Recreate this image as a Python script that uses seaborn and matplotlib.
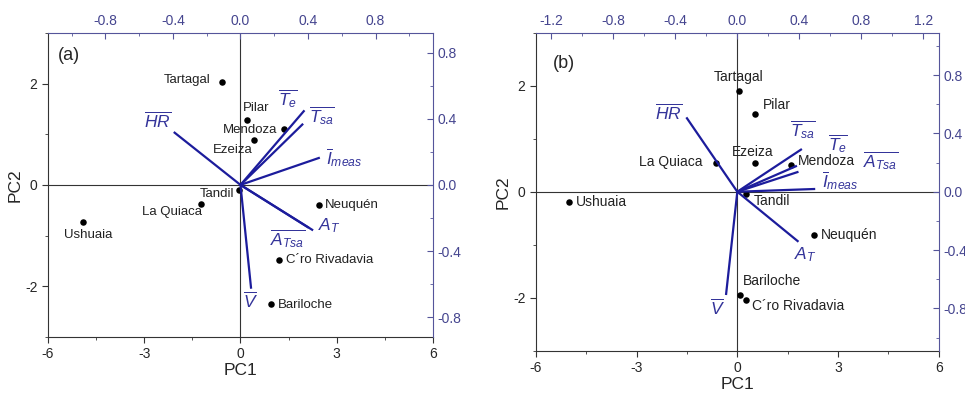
import pandas as pd
import matplotlib
matplotlib.use("Agg")
import matplotlib.pyplot as plt
from matplotlib.ticker import MultipleLocator
import seaborn as sns

sns.set_style("ticks")
plt.rcParams["font.family"] = ["Liberation Sans", "DejaVu Sans"]
plt.rcParams["mathtext.fontset"] = "custom"
plt.rcParams["mathtext.rm"] = "Liberation Sans"
plt.rcParams["mathtext.it"] = "Liberation Sans:italic"
plt.rcParams["axes.unicode_minus"] = False

# ------------------------------------------------------------
# datos
# ------------------------------------------------------------
stations = ["Tartagal", "Pilar", "Mendoza", "Ezeiza", "Tandil", "La Quiaca",
            "Ushuaia", "Neuquén", "C´ro Rivadavia", "Bariloche"]

# panel (a)
pc1_a = [-0.59, 0.21, 1.36, 0.42, -0.04, -1.22, -4.91, 2.45, 1.21, 0.95]
pc2_a = [2.02, 1.29, 1.11, 0.88, -0.10, -0.37, -0.73, -0.40, -1.48, -2.35]
# panel (b)
pc1_b = [0.04, 0.54, 1.59, 0.54, 0.25, -0.64, -5.02, 2.30, 0.25, 0.08]
pc2_b = [1.91, 1.47, 0.50, 0.55, -0.04, 0.55, -0.19, -0.81, -2.04, -1.95]

variables = [r"$\overline{HR}$", r"$\overline{T_e}$", r"$\overline{T_{sa}}$",
             r"$\overline{I}_{meas}$", r"$A_T$", r"$\overline{A_{Tsa}}$",
             r"$\overline{V}$"]
load1_a = [-0.395, 0.379, 0.371, 0.470, 0.430, 0.404, 0.063]
load2_a = [0.320, 0.451, 0.370, 0.165, -0.275, -0.259, -0.628]
load1_b = [-0.329, 0.385, 0.417, 0.503, 0.395, 0.395, -0.073]
load2_b = [0.510, 0.178, 0.293, 0.019, -0.343, 0.137, -0.708]

# posiciones de etiquetas (coordenadas de datos)
lab_a = {
    "Tartagal": (-0.92, 2.06, "right"), "Pilar": (0.09, 1.52, "left"),
    "Mendoza": (1.15, 1.08, "right"), "Ezeiza": (-0.85, 0.69, "left"),
    "Tandil": (-0.19, -0.18, "right"), "La Quiaca": (-1.21, -0.53, "right"),
    "Ushuaia": (-5.51, -0.98, "left"), "Neuquén": (2.64, -0.40, "left"),
    "C´ro Rivadavia": (1.42, -1.49, "left"), "Bariloche": (1.15, -2.36, "left"),
}
lab_b = {
    "Tartagal": (0.04, 2.17, "center"), "Pilar": (0.76, 1.64, "left"),
    "Mendoza": (1.79, 0.58, "left"), "Ezeiza": (0.47, 0.75, "center"),
    "Tandil": (0.50, -0.17, "left"), "La Quiaca": (-1.03, 0.56, "right"),
    "Ushuaia": (-4.82, -0.19, "left"), "Neuquén": (2.48, -0.81, "left"),
    "C´ro Rivadavia": (0.43, -2.15, "left"), "Bariloche": (0.16, -1.68, "left"),
}
vlab_a = [(-0.493, 0.390), (0.280, 0.522), (0.484, 0.421), (0.612, 0.168),
          (0.523, -0.245), (0.276, -0.326), (0.059, -0.699)]
vlab_b = [(-0.447, 0.548), (0.650, 0.330), (0.421, 0.423), (0.665, 0.080),
          (0.439, -0.434), (0.925, 0.210), (-0.127, -0.792)]

LINE = "#1c1c9c"
TXT = "#34349a"
AX2 = "#55559a"


def panel(rect, tag, tagpos, pc1, pc2, labs, l1, l2, vlabs, xl, yl, fs):
    ax = fig.add_axes(rect)
    df = pd.DataFrame({"pc1": pc1, "pc2": pc2, "st": stations})
    ax.axhline(0, color="#333333", lw=0.8, zorder=1)
    ax.axvline(0, color="#333333", lw=0.8, zorder=1)
    sns.scatterplot(data=df, x="pc1", y="pc2", color="black", s=22,
                    edgecolor="black", linewidth=0, ax=ax, zorder=3)
    for st in stations:
        x, y, ha = labs[st]
        ax.text(x, y, st, ha=ha, va="center", fontsize=fs, color="#222222")
    ax.set_xlim(-6, 6)
    ax.set_ylim(-3, 3)
    ax.set_xticks([-6, -3, 0, 3, 6])
    ax.set_yticks([-2, 0, 2])
    ax.xaxis.set_minor_locator(MultipleLocator(1.5))
    ax.yaxis.set_minor_locator(MultipleLocator(1))
    ax.tick_params(which="both", direction="out", labelsize=10, color="#333333")
    ax.tick_params(which="major", length=4)
    ax.tick_params(which="minor", length=2.5)
    ax.set_xlabel("PC1", fontsize=12.5, labelpad=1)
    ax.set_ylabel("PC2", fontsize=12.5, labelpad=2)
    for s in ["top", "right"]:
        ax.spines[s].set_visible(False)
    for s in ["left", "bottom"]:
        ax.spines[s].set_color("#333333")
    ax.text(tagpos[0], tagpos[1], tag, fontsize=13, va="center", ha="left")

    # cargas
    al = fig.add_axes(rect)
    al.patch.set_visible(False)
    al.xaxis.tick_top()
    al.yaxis.tick_right()
    for x, y in zip(l1, l2):
        al.plot([0, x], [0, y], color=LINE, lw=1.6, solid_capstyle="butt")
    for (x, y), v in zip(vlabs, variables):
        al.text(x, y, v, ha="center", va="center", fontsize=12.5, color=TXT)
    al.set_xlim(-xl, xl)
    al.set_ylim(-yl, yl)
    al.xaxis.set_major_locator(MultipleLocator(0.4))
    al.yaxis.set_major_locator(MultipleLocator(0.4))
    al.xaxis.set_minor_locator(MultipleLocator(0.2))
    al.yaxis.set_minor_locator(MultipleLocator(0.2))
    al.xaxis.set_major_formatter(lambda v, p: f"{v:.1f}".replace("-0.0", "0.0"))
    al.yaxis.set_major_formatter(lambda v, p: f"{v:.1f}".replace("-0.0", "0.0"))
    al.tick_params(which="both", direction="in", labelsize=10, color=AX2,
                   labelcolor="#45458f")
    al.tick_params(which="major", length=4)
    al.tick_params(which="minor", length=2.5)
    for s in ["left", "bottom"]:
        al.spines[s].set_visible(False)
    for s in ["top", "right"]:
        al.spines[s].set_color(AX2)
    return ax


fig = plt.figure(figsize=(9.65, 3.93), dpi=100)
panel([0.0497, 0.1425, 0.399, 0.774], "(a)", (-5.7, 2.55), pc1_a, pc2_a, lab_a,
      load1_a, load2_a, vlab_a, 1.14, 0.92, 9.5)
panel([0.5554, 0.1076, 0.4173, 0.809], "(b)", (-5.5, 2.42), pc1_b, pc2_b, lab_b,
      load1_b, load2_b, vlab_b, 1.30, 1.09, 10)

fig.savefig("out.png", dpi=100)
